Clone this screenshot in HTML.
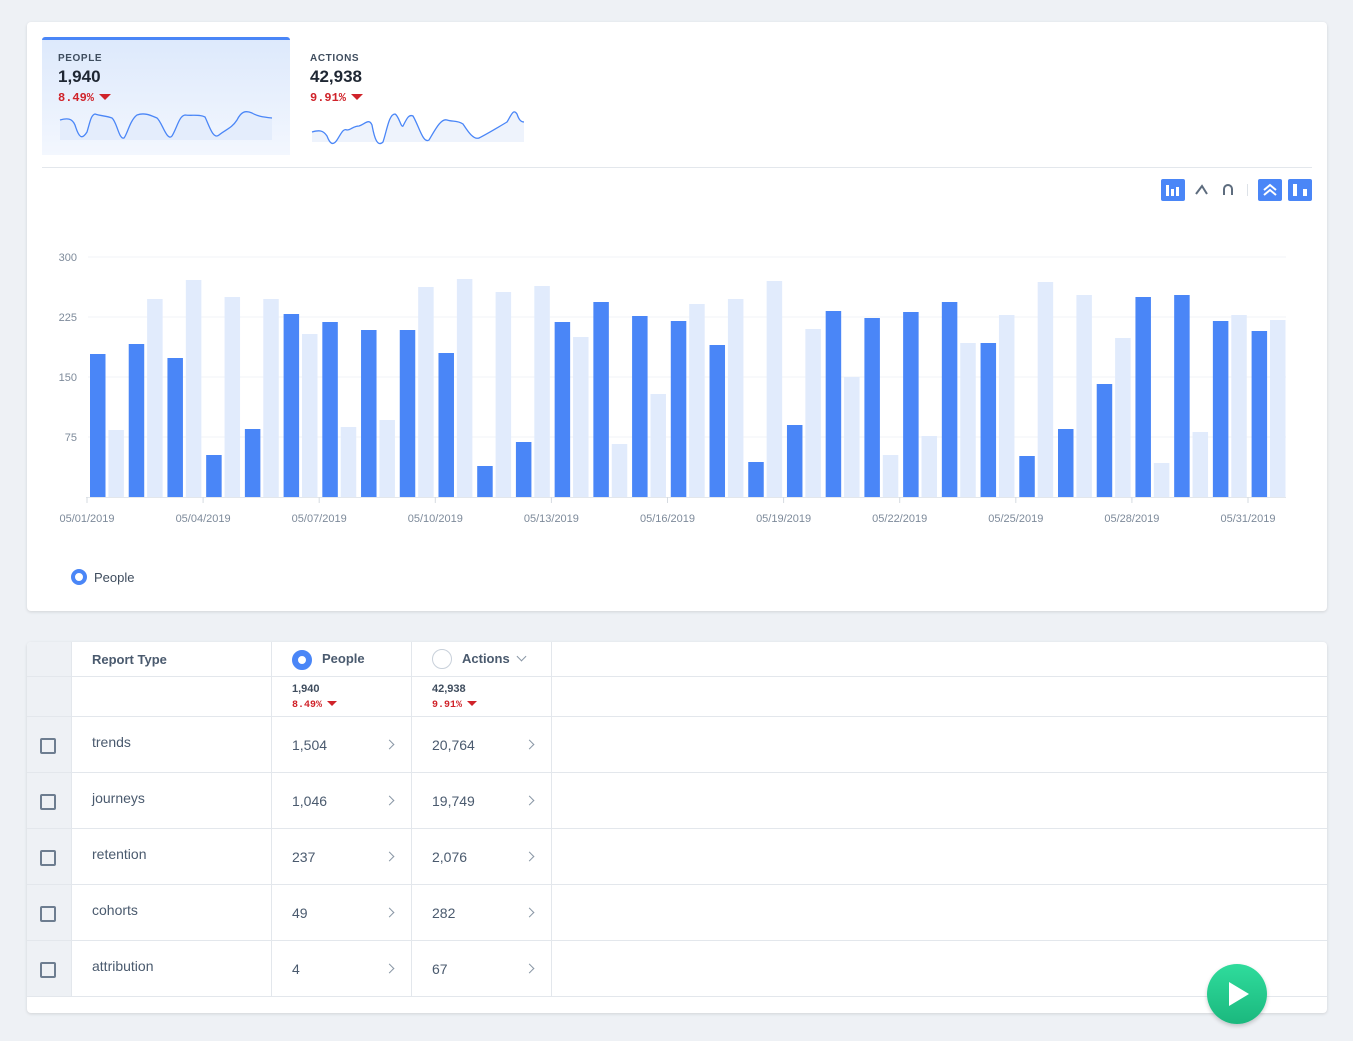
<!DOCTYPE html>
<html><head><meta charset="utf-8"><style>
body{margin:0;background:#eef1f5;font-family:"Liberation Sans",sans-serif;width:1353px;height:1041px;position:relative;overflow:hidden}
.card{position:absolute;background:#fff;border-radius:4px;box-shadow:0 1px 3px rgba(0,0,0,.12)}
.abs{position:absolute}
.lbl{font-size:10px;font-weight:bold;letter-spacing:.6px;color:#3f4d5e}
.big{font-size:17px;font-weight:bold;color:#1f2733}
.pct{font-family:"Liberation Mono",monospace;font-size:12px;font-weight:bold;color:#d0232a}
.tri{display:inline-block;width:0;height:0;border-left:6px solid transparent;border-right:6px solid transparent;border-top:6px solid #d0232a;margin-left:5px;vertical-align:1px}
.tri.s{border-left-width:5px;border-right-width:5px;border-top-width:5px}
.vl{position:absolute;top:0;bottom:16px;width:1px;background:#e3e7ec}
.hl{position:absolute;left:0;right:0;height:1px;background:#e3e7ec}
.t{position:absolute;font-size:14px;color:#4a5a6e}
.cb{position:absolute;left:13px;width:12px;height:12px;border:2px solid #6d7d90;border-radius:2px}
.chev{position:absolute;width:6px;height:6px;border-right:1.6px solid #8a97a6;border-top:1.6px solid #8a97a6;transform:rotate(45deg)}
</style></head><body>
<div class="card" style="left:27px;top:22px;width:1300px;height:589px">
  <div class="abs" style="left:15px;top:15px;width:248px;height:115px;background:linear-gradient(#dde9fc,#f3f7fe);border-top:3px solid #4a86f7;border-radius:3px 3px 0 0"></div>
  <div class="abs lbl" style="left:31px;top:31px">PEOPLE</div>
  <div class="abs big" style="left:31px;top:45px">1,940</div>
  <div class="abs pct" style="left:31px;top:69px">8.49%<span class="tri"></span></div>
  <div class="abs lbl" style="left:283px;top:31px">ACTIONS</div>
  <div class="abs big" style="left:283px;top:45px">42,938</div>
  <div class="abs pct" style="left:283px;top:69px">9.91%<span class="tri"></span></div>
  <svg class="abs" style="left:0;top:8px" width="520" height="130">
   <path d="M33 90 C40 88 45 88 48 95 C52 108 55 110 60 102 C63 92 64 85 68 84 C74 86 80 86 85 88 C90 92 92 110 97 108 C100 105 103 90 110 85 C118 82 125 86 130 88 C135 92 140 112 145 106 C150 98 152 86 158 85 C165 86 172 84 178 87 C182 95 186 110 192 105 C198 100 205 98 210 90 C214 82 218 80 225 83 C230 86 235 87 245 88 L245 110 L33 110Z" fill="#e4edfc"/>
   <path d="M33 90 C40 88 45 88 48 95 C52 108 55 110 60 102 C63 92 64 85 68 84 C74 86 80 86 85 88 C90 92 92 110 97 108 C100 105 103 90 110 85 C118 82 125 86 130 88 C135 92 140 112 145 106 C150 98 152 86 158 85 C165 86 172 84 178 87 C182 95 186 110 192 105 C198 100 205 98 210 90 C214 82 218 80 225 83 C230 86 235 87 245 88" fill="none" stroke="#4a86f7" stroke-width="1.3"/>
   <path d="M285 102 C292 100 296 100 300 106 C303 114 306 116 310 110 C314 104 316 98 320 100 C324 100 326 96 332 96 C338 94 342 88 345 95 C347 106 350 118 356 112 C360 100 362 84 368 84 C372 86 374 98 376 96 C380 88 382 84 386 86 C392 96 396 114 402 110 C408 100 414 88 420 90 C426 92 430 90 436 94 C440 100 446 110 452 108 C460 104 470 98 480 92 C484 86 486 78 490 84 C492 90 494 92 497 92 L497 112 L285 112Z" fill="#eef3fc"/>
   <path d="M285 102 C292 100 296 100 300 106 C303 114 306 116 310 110 C314 104 316 98 320 100 C324 100 326 96 332 96 C338 94 342 88 345 95 C347 106 350 118 356 112 C360 100 362 84 368 84 C372 86 374 98 376 96 C380 88 382 84 386 86 C392 96 396 114 402 110 C408 100 414 88 420 90 C426 92 430 90 436 94 C440 100 446 110 452 108 C460 104 470 98 480 92 C484 86 486 78 490 84 C492 90 494 92 497 92" fill="none" stroke="#4a86f7" stroke-width="1.3"/>
  </svg>
  <div class="hl" style="left:15px;right:15px;top:145px"></div>
  <svg class="abs" style="left:1133px;top:156px" width="155" height="24">
   <rect x="1" y="1" width="24" height="22" rx="2" fill="#4a86f7"/><rect x="6" y="7" width="3" height="11" fill="#fff"/><rect x="11" y="11" width="3" height="7" fill="#fff"/><rect x="16" y="9" width="3" height="9" fill="#fff"/>
   <path d="M36 16 L42 8 L47 16" fill="none" stroke="#5d6c7e" stroke-width="2"/>
   <path d="M64 17 V11 A4 4 0 0 1 72 11 V17" fill="none" stroke="#5d6c7e" stroke-width="2"/>
   <rect x="87" y="6" width="1" height="12" fill="#dde2e8"/>
   <rect x="98" y="1" width="24" height="22" rx="2" fill="#4a86f7"/><path d="M104 12 L110 7 L116 12 M104 17 L110 12 L116 17" fill="none" stroke="#fff" stroke-width="2"/>
   <rect x="128" y="1" width="24" height="22" rx="2" fill="#4a86f7"/><rect x="133" y="6" width="4" height="12" fill="#fff"/><rect x="143" y="11" width="4" height="7" fill="#fff"/>
  </svg>
  <svg id="ch" class="abs" style="left:0;top:0" width="1300" height="540"></svg>
  <div class="abs" style="left:44px;top:547px;width:8px;height:8px;border:4px solid #4a86f7;border-radius:50%"></div>
  <div class="abs" style="left:67px;top:548px;font-size:13px;color:#3f4d5e">People</div>
</div>
<div class="card" style="left:27px;top:642px;width:1300px;height:371px;overflow:hidden">
  <div class="abs" style="left:0;top:0;width:45px;height:355px;background:#eef1f5"></div>
  <div class="vl" style="left:44px;height:355px;top:0"></div>
  <div class="vl" style="left:244px;height:355px;top:0"></div>
  <div class="vl" style="left:384px;height:355px;top:0"></div>
  <div class="vl" style="left:524px;height:355px;top:0"></div>
  <div class="hl" style="top:34px"></div><div class="hl" style="top:74px"></div><div class="hl" style="top:130px"></div><div class="hl" style="top:186px"></div><div class="hl" style="top:242px"></div><div class="hl" style="top:298px"></div><div class="hl" style="top:354px"></div>
  <div class="abs" style="left:65px;top:10px;font-size:13px;font-weight:bold;color:#4a5a6e">Report Type</div>
  <div class="abs" style="left:265px;top:8px;width:8px;height:8px;border:6px solid #4a86f7;border-radius:50%"></div>
  <div class="abs" style="left:295px;top:9px;font-size:13px;font-weight:bold;color:#4a5a6e">People</div>
  <div class="abs" style="left:405px;top:7px;width:18px;height:18px;border:1px solid #c8d0da;border-radius:50%"></div>
  <div class="abs" style="left:435px;top:9px;font-size:13px;font-weight:bold;color:#4a5a6e">Actions</div>
  <div class="chev" style="left:491px;top:11px;transform:rotate(135deg)"></div>
  <div class="abs" style="left:265px;top:41px;font-size:11px;font-weight:bold;color:#3f4d5e">1,940</div>
  <div class="abs pct" style="left:265px;top:58px;font-size:10px">8.49%<span class="tri s"></span></div>
  <div class="abs" style="left:405px;top:41px;font-size:11px;font-weight:bold;color:#3f4d5e">42,938</div>
  <div class="abs pct" style="left:405px;top:58px;font-size:10px">9.91%<span class="tri s"></span></div>
  <div class="cb" style="top:96px"></div><div class="t" style="left:65px;top:92px">trends</div><div class="t" style="left:265px;top:95px">1,504</div><div class="chev" style="left:359px;top:99px"></div><div class="t" style="left:405px;top:95px">20,764</div><div class="chev" style="left:499px;top:99px"></div>
  <div class="cb" style="top:152px"></div><div class="t" style="left:65px;top:148px">journeys</div><div class="t" style="left:265px;top:151px">1,046</div><div class="chev" style="left:359px;top:155px"></div><div class="t" style="left:405px;top:151px">19,749</div><div class="chev" style="left:499px;top:155px"></div>
  <div class="cb" style="top:208px"></div><div class="t" style="left:65px;top:204px">retention</div><div class="t" style="left:265px;top:207px">237</div><div class="chev" style="left:359px;top:211px"></div><div class="t" style="left:405px;top:207px">2,076</div><div class="chev" style="left:499px;top:211px"></div>
  <div class="cb" style="top:264px"></div><div class="t" style="left:65px;top:260px">cohorts</div><div class="t" style="left:265px;top:263px">49</div><div class="chev" style="left:359px;top:267px"></div><div class="t" style="left:405px;top:263px">282</div><div class="chev" style="left:499px;top:267px"></div>
  <div class="cb" style="top:320px"></div><div class="t" style="left:65px;top:316px">attribution</div><div class="t" style="left:265px;top:319px">4</div><div class="chev" style="left:359px;top:323px"></div><div class="t" style="left:405px;top:319px">67</div><div class="chev" style="left:499px;top:323px"></div>
</div>
<div class="abs" style="left:1207px;top:964px;width:60px;height:60px;border-radius:50%;background:linear-gradient(#2fdc9c,#1bb87e);box-shadow:0 2px 4px rgba(0,0,0,.2)"></div>
<div class="abs" style="left:1229px;top:982px;width:0;height:0;border-top:12px solid transparent;border-bottom:12px solid transparent;border-left:20px solid #fff"></div>
<script>
var d=[354,344,358,455,429,314,322,330,330,353,466,442,322,302,316,321,345,462,425,311,318,312,302,343,456,429,384,297,295,321,331];
var l=[430,299,280,297,299,334,427,420,287,279,292,286,337,444,394,304,299,281,329,377,455,436,343,315,282,295,338,463,432,315,320];
var s='';var X=-27,Y=-22;
[257,317,377,437].forEach(function(y,i){s+='<line x1="'+(88+X)+'" x2="'+(1286+X)+'" y1="'+(y+Y)+'" y2="'+(y+Y)+'" stroke="#f0f3f7"/>';s+='<text x="'+(77+X)+'" y="'+(y+4+Y)+'" text-anchor="end" font-size="11" fill="#7d8a9a" font-family="Liberation Sans">'+['300','225','150','75'][i]+'</text>';});
for(var i=0;i<31;i++){var x=90+i*38.72;s+='<rect x="'+(x+X)+'" y="'+(d[i]+Y)+'" width="15.5" height="'+(497-d[i])+'" fill="#4a86f7"/>';s+='<rect x="'+(x+18.4+X)+'" y="'+(l[i]+Y)+'" width="15.5" height="'+(497-l[i])+'" fill="#e1ebfc"/>';}
s+='<line x1="'+(86+X)+'" x2="'+(1286+X)+'" y1="'+(497.5+Y)+'" y2="'+(497.5+Y)+'" stroke="#e3e7ec"/>';
var labs=['05/01/2019','05/04/2019','05/07/2019','05/10/2019','05/13/2019','05/16/2019','05/19/2019','05/22/2019','05/25/2019','05/28/2019','05/31/2019'];
for(var k=0;k<11;k++){var cx=87+k*116.1;s+='<line x1="'+(cx+X)+'" x2="'+(cx+X)+'" y1="'+(497+Y)+'" y2="'+(503+Y)+'" stroke="#d6dbe1"/>';s+='<text x="'+(cx+X)+'" y="'+(522+Y)+'" text-anchor="middle" font-size="11" fill="#7d8a9a" font-family="Liberation Sans">'+labs[k]+'</text>';}
document.getElementById('ch').innerHTML=s;
</script>
</body></html>
